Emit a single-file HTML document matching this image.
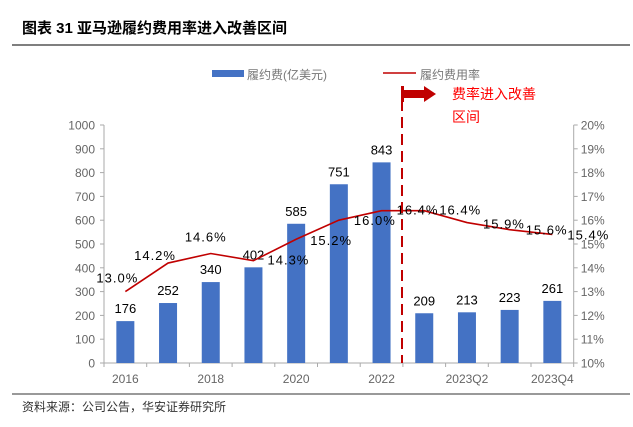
<!DOCTYPE html>
<html><head><meta charset="utf-8"><style>
body{margin:0;background:#fff;}
svg text{font-family:"Liberation Sans","Noto Sans CJK SC",sans-serif;}
</style></head><body>
<svg width="633" height="422" xmlns="http://www.w3.org/2000/svg" id="chart">
<text x="22" y="33" font-size="15" font-weight="bold" fill="#000">图表 31 亚马逊履约费用率进入改善区间</text>
<line x1="12" y1="45" x2="630" y2="45" stroke="#333" stroke-width="1.2"/>
<g>
<rect x="212" y="70" width="32" height="7" fill="#4472C4"/>
<text x="247" y="79" font-size="12" fill="#777">履约费(亿美元)</text>
<line x1="383" y1="73" x2="416" y2="73" stroke="#C00000" stroke-width="1.5"/>
<text x="420" y="79" font-size="12" fill="#777">履约费用率</text>
</g>
<g id="axes"></g>
<g id="bars"></g>
<g id="line"></g>
<g id="anno">
<line x1="402" y1="100" x2="402" y2="363" stroke="#C00000" stroke-width="2" stroke-dasharray="11,6"/>
<rect x="401" y="86" width="3" height="16" fill="#C00000"/>
<polygon points="404,90 424,90 424,86 436,94 424,102 424,98 404,98" fill="#C00000"/>
<text x="452" y="99" font-size="14" fill="#FF0000">费率进入改善</text>
<text x="452" y="122" font-size="14" fill="#FF0000">区间</text>
</g>
<line x1="12" y1="394" x2="630" y2="394" stroke="#333" stroke-width="1"/>
<text x="22" y="411" font-size="12" fill="#333">资料来源：公司公告，华安证券研究所</text>
</svg>
<script>
const categories=["2016","2017","2018","2019","2020","2021","2022","2023Q1","2023Q2","2023Q3","2023Q4"];
const tickLabels=["2016","","2018","","2020","","2022","","2023Q2","","2023Q4"];
const costs=[176,252,340,402,585,751,843,209,213,223,261];
const rates=[13.0,14.2,14.6,14.3,15.2,16.0,16.4,16.4,15.9,15.6,15.4];
const rateLabels=["13.0%","14.2%","14.6%","14.3%","15.2%","16.0%","16.4%","16.4%","15.9%","15.6%","15.4%"];
const leftTicks=[0,100,200,300,400,500,600,700,800,900,1000];
const rightTicks=[10,11,12,13,14,15,16,17,18,19,20];
const rateLabelDx=[-8,-13,-5,35,35,36,36,36,37,37,36];
const rateLabelDy=[-9,-3,-12,4,6,5,4,4,6,5,5];

const NS="http://www.w3.org/2000/svg";
const X0=104,SLOT=42.7,Y0=363,Y1=125;
const x=i=>X0+SLOT*(i+0.5);
const yL=v=>Y0-(v/1000)*(Y0-Y1);
const yR=v=>Y0-((v-10)/10)*(Y0-Y1);
function mk(tag,attrs,parent,text){const e=document.createElementNS(NS,tag);for(const k in attrs)e.setAttribute(k,attrs[k]);if(text!==undefined)e.textContent=text;document.getElementById(parent).appendChild(e);return e;}

let e;
e=mk("line",{x1:X0-4,y1:Y1,x2:X0,y2:Y1,stroke:"#aaa"},"axes");
e=mk("line",{x1:X0,y1:Y1,x2:X0,y2:Y0,stroke:"#aaa"},"axes");


e=mk("line",{x1:X0+SLOT*11,y1:Y1,x2:X0+SLOT*11,y2:Y0,stroke:"#aaa"},"axes");


e=mk("line",{x1:X0,y1:Y0,x2:X0+SLOT*11,y2:Y0,stroke:"#aaa"},"axes");


leftTicks.forEach(v=>{
  mk("line",{x1:X0-4,y1:yL(v),x2:X0,y2:yL(v),stroke:"#aaa"},"axes");
  e=mk("text",{x:X0-9,y:yL(v)+4.5,"font-size":12,fill:"#666","text-anchor":"end"},"axes",String(v));
  
  
});
rightTicks.forEach(v=>{
  mk("line",{x1:X0+SLOT*11,y1:yR(v),x2:X0+SLOT*11+4,y2:yR(v),stroke:"#aaa"},"axes");
  e=mk("text",{x:X0+SLOT*11+7,y:yR(v)+4.5,"font-size":12,fill:"#666"},"axes",v+"%");
  
  
});
for(let i=0;i<=11;i++) mk("line",{x1:X0+SLOT*i,y1:Y0,x2:X0+SLOT*i,y2:Y0+4,stroke:"#aaa"},"axes");
tickLabels.forEach((t,i)=>{if(!t)return;
  e=mk("text",{x:x(i),y:Y0+20,"font-size":12,fill:"#666","text-anchor":"middle"},"axes",t);
  
  
});
costs.forEach((v,i)=>{
  e=mk("rect",{x:x(i)-9,y:yL(v),width:18,height:Y0-yL(v),fill:"#4472C4"},"bars");
  
  
  e=mk("text",{x:x(i),y:yL(v)-8,"font-size":13,fill:"#000","text-anchor":"middle"},"bars",String(v));
  
  
});
e=mk("polyline",{points:rates.map((r,i)=>x(i)+","+yR(r)).join(" "),fill:"none",stroke:"#C00000","stroke-width":1.6},"line");


rates.forEach((r,i)=>{
  e=mk("text",{x:x(i)+rateLabelDx[i],y:yR(r)+rateLabelDy[i],"font-size":13,fill:"#000","text-anchor":"middle","letter-spacing":"1"},"line",rateLabels[i]);
  
  
});
</script>
</body></html>
